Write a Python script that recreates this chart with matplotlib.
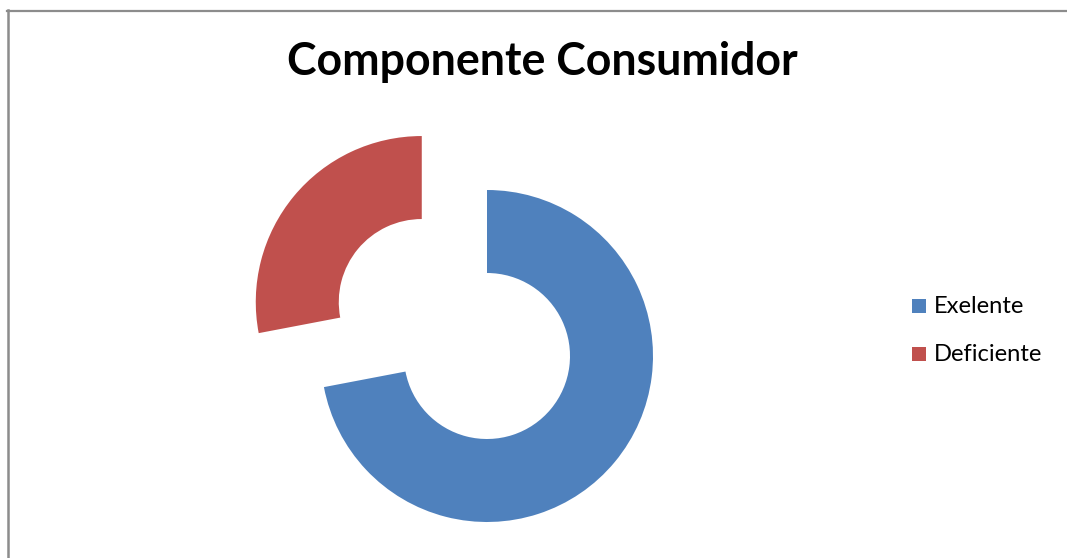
import matplotlib
matplotlib.use("Agg")
import matplotlib.pyplot as plt
from matplotlib.patches import Rectangle
from matplotlib.lines import Line2D

# ---- data ----
categories = ["Exelente", "Deficiente"]
values = [72, 28]
colors = ["#4F81BD", "#C0504D"]
explode = [0.0, 0.51]
title = "Componente Consumidor"

W, H = 1067, 558
fig = plt.figure(figsize=(W / 100, H / 100), dpi=100)
fig.patch.set_facecolor("white")

R = 166.0
cx, cy = 487.0, 356.0  # blue ring centre in pixels (from top-left)
ax = fig.add_axes([0, 0, 1, 1])
ax.pie(values, colors=colors, explode=explode, startangle=90, counterclock=False,
       radius=1.0, wedgeprops=dict(width=0.5, linewidth=0))
ax.set_xlim(-cx / R, (W - cx) / R)
ax.set_ylim(-(H - cy) / R, cy / R)
ax.set_aspect("auto")
ax.axis("off")

renderer = fig.canvas.get_renderer()


def fit(t, target_w):
    fs = t.get_fontsize()
    for _ in range(4):
        w = t.get_window_extent(renderer).width
        fs *= target_w / w
        t.set_fontsize(fs)


tt = fig.text(542 / W, 1 - 75 / H, title, ha="center", va="baseline",
              fontsize=30, fontweight="bold", family="Lato")
fit(tt, 509)

for i, (lab, col) in enumerate(zip(categories, colors)):
    ytop = 299 + 48 * i
    fig.add_artist(Rectangle((912 / W, 1 - (ytop + 14) / H), 14 / W, 14 / H,
                             transform=fig.transFigure, facecolor=col, edgecolor="none"))
    t = fig.text(934 / W, 1 - (313 + 48 * i) / H, lab, ha="left", va="baseline",
                 fontsize=16, family="Lato")
    if i == 1:
        fit(t, 109)
        fs_leg = t.get_fontsize()
for t in fig.texts[1:]:
    t.set_fontsize(fs_leg)

fig.add_artist(Line2D([7 / W, 1], [1 - 11 / H] * 2, transform=fig.transFigure,
                      color="#8c8c8c", lw=1.6))
fig.add_artist(Line2D([7.5 / W] * 2, [0, 1 - 10 / H], transform=fig.transFigure,
                      color="#8c8c8c", lw=1.8))

fig.savefig("out.png", dpi=100, facecolor="white")
